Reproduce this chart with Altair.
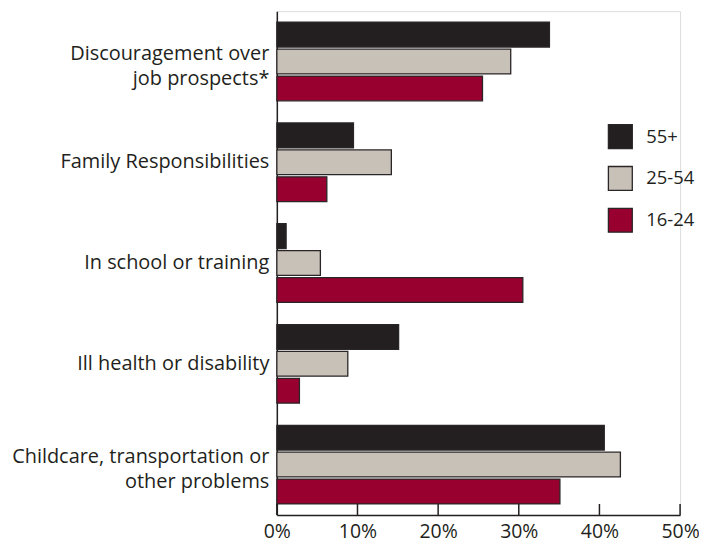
import altair as alt
import pandas as pd

categories = [
    "Discouragement over\njob prospects*",
    "Family Responsibilities",
    "In school or training",
    "Ill health or disability",
    "Childcare, transportation or\nother problems",
]
groups = ["55+", "25-54", "16-24"]
colors = ["#231f20", "#c8c1b8", "#97002f"]

vals_55 = [33.8, 9.5, 1.15, 15.1, 40.6]
vals_25 = [29.0, 14.2, 5.4, 8.8, 42.6]
vals_16 = [25.5, 6.2, 30.5, 2.8, 35.1]

tick_values = [0, 10, 20, 30, 40, 50]

rows = []
for g, vs in zip(groups, [vals_55, vals_25, vals_16]):
    for c, v in zip(categories, vs):
        rows.append({"category": c, "group": g, "value": v})
df = pd.DataFrame(rows)
ticks_df = pd.DataFrame({"t": tick_values})

FONT = "Open Sans"
TXT = "#231f20"
H = 506
W = 405

xscale = alt.Scale(domain=[0, 50], nice=False, zero=True)

bars = alt.Chart(df).mark_bar(stroke="#2a2627", strokeWidth=1.3).encode(
    x=alt.X("value:Q", scale=xscale,
            axis=alt.Axis(values=tick_values, labelExpr="datum.value + '%'",
                          grid=False, ticks=False, domain=True, domainColor=TXT,
                          domainWidth=1.5, labelFont=FONT, labelFontSize=19.5,
                          labelColor=TXT, labelPadding=8, title=None,
                          labelFlush=False)),
    y=alt.Y("category:N", sort=categories,
            scale=alt.Scale(paddingInner=0.22, paddingOuter=0.11),
            axis=alt.Axis(title=None, ticks=False, domain=True, domainColor=TXT,
                          domainWidth=1.5, labelFont=FONT, labelFontSize=20,
                          labelColor=TXT, labelPadding=8, labelLineHeight=26,
                          labelOffset=alt.condition("indexof(datum.value, '\\n') >= 0",
                                                    alt.value(-8), alt.value(0)),
                          labelExpr="split(datum.label, '\\n')", labelLimit=300)),
    yOffset=alt.YOffset("group:N", sort=groups,
                        scale=alt.Scale(paddingInner=0.08)),
    color=alt.Color("group:N", sort=groups,
                    scale=alt.Scale(domain=groups, range=colors),
                    legend=alt.Legend(title=None, orient="none", legendX=332,
                                      legendY=113, symbolType="square",
                                      symbolSize=576, symbolStrokeColor="#2a2627",
                                      symbolStrokeWidth=1.3, symbolOpacity=1,
                                      labelFont=FONT, labelFontSize=18.5,
                                      labelColor=TXT, labelOffset=13,
                                      rowPadding=12, padding=0)),
)

tick_rules = alt.Chart(ticks_df).mark_rule(color=TXT, strokeWidth=1.5).encode(
    x=alt.X("t:Q", scale=xscale),
    y=alt.value(H - 11),
    y2=alt.value(H),
)

chart = alt.layer(bars, tick_rules).properties(
    width=W, height=H,
    autosize=alt.AutoSizeParams(type="none"),
    padding={"left": 270, "top": 2, "right": 19, "bottom": 30},
).configure_view(stroke=None).configure(background="white")

chart.save("out.html", embed_options={"renderer": "svg", "actions": False})
